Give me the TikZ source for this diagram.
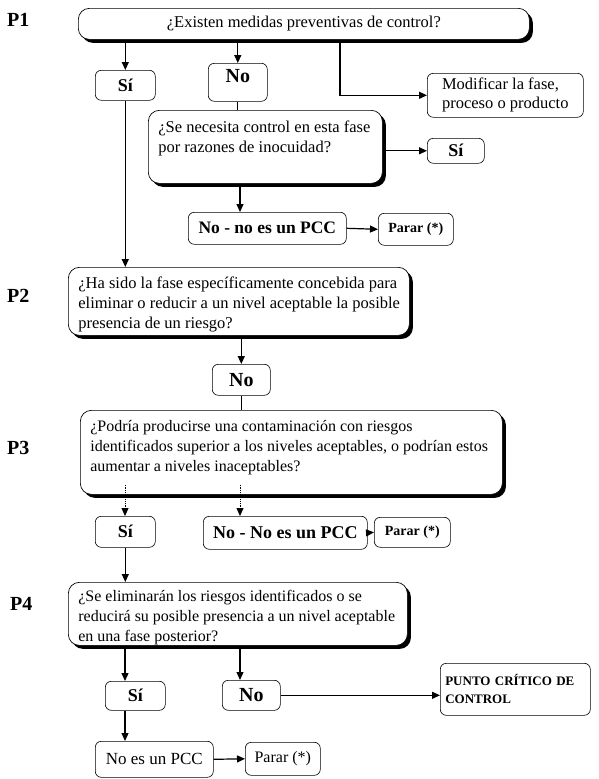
\documentclass[tikz,border=0pt]{standalone}
\usepackage{fontspec}
\setmainfont{Liberation Serif}
\usetikzlibrary{arrows.meta,shadows,calc}
\newcommand{\btxt}[4]{\parbox[c][#2][t]{#1}{\rule{0pt}{#3}#4}}
\begin{document}
\begin{tikzpicture}[x=1pt,y=-1pt,
  big/.style={draw,line width=0.7pt,rounded corners=11pt,fill=white,
    drop shadow={shadow xshift=3.5pt,shadow yshift=-3.5pt,fill=black,opacity=1},
    anchor=north west,inner xsep=10pt,inner ysep=0pt,font=\fontsize{16.5}{20}\selectfont},
  sm/.style={draw,line width=0.6pt,rounded corners=6pt,anchor=north west,inner sep=0pt,align=center,fill=white},
  yn/.style={sm,font=\fontsize{18}{20}\selectfont\bfseries},
  ynl/.style={sm,font=\fontsize{20}{22}\selectfont\bfseries},
  lab/.style={anchor=west,font=\fontsize{20}{22}\selectfont\bfseries,inner sep=0pt},
  conn/.style={line width=1.2pt,-{Triangle[length=8pt,width=7pt]}},
  plain/.style={line width=1.2pt},
  dconn/.style={line width=0.8pt,densely dotted,-{Triangle[length=8pt,width=7pt]}},
]
\fill[white] (0,0) rectangle (599,779);
\useasboundingbox (0,0) rectangle (599,779);

% labels
\node[lab] (lp1) at (7,20) {P1};
\node[lab] (lp2) at (7,296) {P2};
\node[lab] (lp3) at (7,448) {P3};
\node[lab] (lp4) at (10,604) {P4};

% helper coordinates
\coordinate (x125) at (125,0);
\coordinate (x240) at (240,0);
\coordinate (x340) at (340,0);

% P1
\node[big,minimum width=451pt,minimum height=31pt,inner xsep=0pt] (q1) at (78,8) {¿Existen medidas preventivas de control?};
\node[yn,minimum width=60pt,minimum height=30pt] (si1) at (95,70) {Sí};
\node[ynl,minimum width=59pt,text height=19.5pt,text depth=18.5pt] (no1) at (208,63) {No};
\node[sm,minimum width=156pt,minimum height=44pt,align=left,inner xsep=13pt,font=\fontsize{16.5}{19}\selectfont] (mod) at (427,73) {Modificar la fase,\\proceso o producto};
\node[big] (q1b) at (148,110) {\btxt{214pt}{73pt}{22pt}{\mbox{¿Se necesita control en esta fase}\\\mbox{por razones de inocuidad?}}};
\node[yn,minimum width=57pt,minimum height=25pt] (si1b) at (427,138) {Sí};
\node[sm,font=\fontsize{17.5}{20}\selectfont\bfseries,minimum width=158pt,minimum height=32pt] (nopcc1) at (188,212) {No - no es un PCC};
\node[sm,font=\fontsize{14}{16}\selectfont\bfseries,minimum width=75pt,minimum height=32pt] (parar1) at (378,213) {Parar (*)};

% P2
\node[big] (p2) at (68,267) {\btxt{321pt}{68pt}{21pt}{\mbox{¿Ha sido la fase específicamente concebida para}\\\mbox{eliminar o reducir a un nivel aceptable la posible}\\\mbox{presencia de un riesgo?}}};
\node[ynl,minimum width=58pt,minimum height=31pt] (no2) at (212,364) {No};

% P3
\node[big,font=\fontsize{16}{20}\selectfont] (p3) at (80,410) {\btxt{402pt}{84pt}{21pt}{\mbox{¿Podría producirse una contaminación con riesgos}\\\mbox{identificados superior a los niveles aceptables, o podrían estos}\\\mbox{aumentar a niveles inaceptables?}}};
\node[yn,minimum width=60pt,minimum height=31pt] (si3) at (95,516) {Sí};
\node[sm,font=\fontsize{18}{20}\selectfont\bfseries,minimum width=164pt,minimum height=33pt] (nopcc3) at (203,516) {No - No es un PCC};
\node[sm,font=\fontsize{14}{16}\selectfont\bfseries,minimum width=76pt,minimum height=30pt] (parar3) at (374,517) {Parar (*)};

% P4
\node[big,font=\fontsize{16}{20}\selectfont] (p4) at (68,582) {\btxt{319pt}{63pt}{19pt}{\mbox{¿Se eliminarán los riesgos identificados o se}\\\mbox{reducirá su posible presencia a un nivel aceptable}\\\mbox{en una fase posterior?}}};
\node[yn,minimum width=60pt,minimum height=29pt] (si4) at (105,681) {Sí};
\node[ynl,minimum width=58pt,minimum height=30pt] (no4) at (222,680) {No};
\node[sm,font=\fontsize{13}{18}\selectfont\bfseries,align=left,inner xsep=5pt,text width=140pt,minimum height=52pt] (pcc) at (440,663) {PUNTO CRÍTICO DE\\CONTROL};
\node[sm,font=\fontsize{17}{20}\selectfont,minimum width=118pt,minimum height=36pt] (nopcc4) at (95,741) {No es un PCC};
\node[sm,font=\fontsize{16}{20}\selectfont,minimum width=75pt,minimum height=33pt] (parar4) at (245,742) {Parar (*)};

% connectors
\draw[conn] (q1.south -| si1.north) -- (si1.north);
\draw[conn] (q1.south -| no1.north) -- (no1.north);
\draw[conn] (q1.south -| x340) |- (mod.west);
\draw[plain] (no1.south) -- (no1.south |- q1b.north);
\draw[conn] (q1b.east |- si1b.west) -- (si1b.west);
\draw[conn] (q1b.south -| x240) -- (nopcc1.north -| x240);
\draw[conn] (nopcc1.east) -- (parar1.west);
\draw[conn] (si1.south) -- (si1.south |- p2.north);
\draw[conn] (p2.south -| no2.north) -- (no2.north);
\draw[plain] (no2.south) -- (no2.south |- p3.north);
\draw[dconn] ($(p3.south -| x125)+(0,-10)$) -- (si3.north -| x125);
\draw[dconn] ($(p3.south -| x240)+(0,-10)$) -- (nopcc3.north -| x240);
\draw[conn] (nopcc3.east) -- (parar3.west);
\draw[conn] (si3.south) -- (si3.south |- p4.north);
\draw[conn] (p4.south -| x125) -- (si4.north -| x125);
\draw[conn] (p4.south -| x240) -- (no4.north -| x240);
\draw[conn] (no4.east) -- (no4.east -| pcc.west);
\draw[conn] (si4.south -| x125) -- (nopcc4.north -| x125);
\draw[conn] (nopcc4.east) -- (parar4.west);
\end{tikzpicture}
\end{document}
